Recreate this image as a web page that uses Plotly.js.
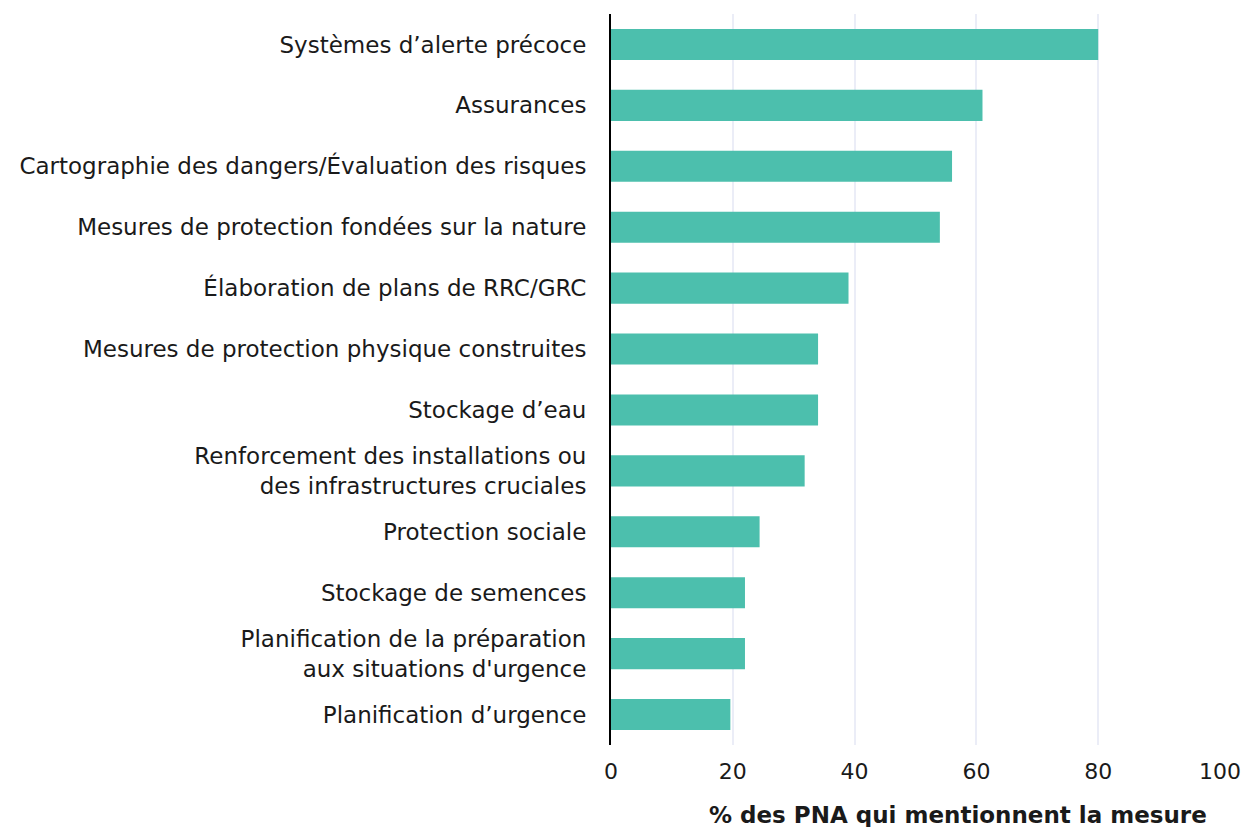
<!DOCTYPE html>
<html>
<head>
<meta charset="utf-8">
<script src="https://cdn.plot.ly/plotly-3.0.1.min.js"></script>
<style>html,body{margin:0;padding:0;background:#fff;}#chart{width:1246px;height:827px;}</style>
</head>
<body>
<div id="chart"></div>
<script>
const categories = [
  "Systèmes d’alerte précoce",
  "Assurances",
  "Cartographie des dangers/Évaluation des risques",
  "Mesures de protection fondées sur la nature",
  "Élaboration de plans de RRC/GRC",
  "Mesures de protection physique construites",
  "Stockage d’eau",
  "Renforcement des installations ou<br>des infrastructures cruciales",
  "Protection sociale",
  "Stockage de semences",
  "Planification de la préparation<br>aux situations d'urgence",
  "Planification d’urgence"
];
const values = [80, 61, 56, 54, 39, 34, 34, 31.8, 24.4, 22, 22, 19.6];
const xTicks = [0, 20, 40, 60, 80, 100];
const xTitle = "% des PNA qui mentionnent la mesure";

const font = "DejaVu Sans, sans-serif";
const trace = {
  type: "bar",
  orientation: "h",
  x: values,
  y: categories,
  marker: {color: "#4CBFAD"},
  hoverinfo: "x+y"
};
const layout = {
  width: 1246, height: 827,
  margin: {l: 611, r: 26, t: 14, b: 82},
  paper_bgcolor: "#ffffff",
  plot_bgcolor: "#ffffff",
  bargap: 0.49,
  showlegend: false,
  font: {family: font, size: 23, color: "#1a1a1a"},
  xaxis: {
    range: [0, 100],
    tickvals: xTicks,
    ticktext: xTicks.map(String),
    showgrid: true,
    gridcolor: "#ebedf7",
    gridwidth: 2,
    zeroline: false,
    showline: false,
    ticks: "",
    ticklabelstandoff: 11,
    tickfont: {family: font, size: 22, color: "#1a1a1a"},
    fixedrange: true
  },
  yaxis: {
    categoryorder: "array",
    categoryarray: categories.slice().reverse(),
    showline: true,
    linecolor: "#000000",
    linewidth: 2,
    showgrid: false,
    zeroline: false,
    ticks: "",
    ticklabelstandoff: 18,
    tickfont: {family: font, size: 23, color: "#1a1a1a"},
    fixedrange: true
  },
  annotations: [{
    text: "<b>" + xTitle + "</b>",
    xref: "paper", yref: "paper",
    x: 0.57, y: 0,
    yshift: -70,
    xanchor: "center", yanchor: "middle",
    showarrow: false,
    font: {family: font, size: 23, color: "#1a1a1a"}
  }]
};
Plotly.newPlot("chart", [trace], layout, {displayModeBar: false, staticPlot: true});
</script>
</body>
</html>
